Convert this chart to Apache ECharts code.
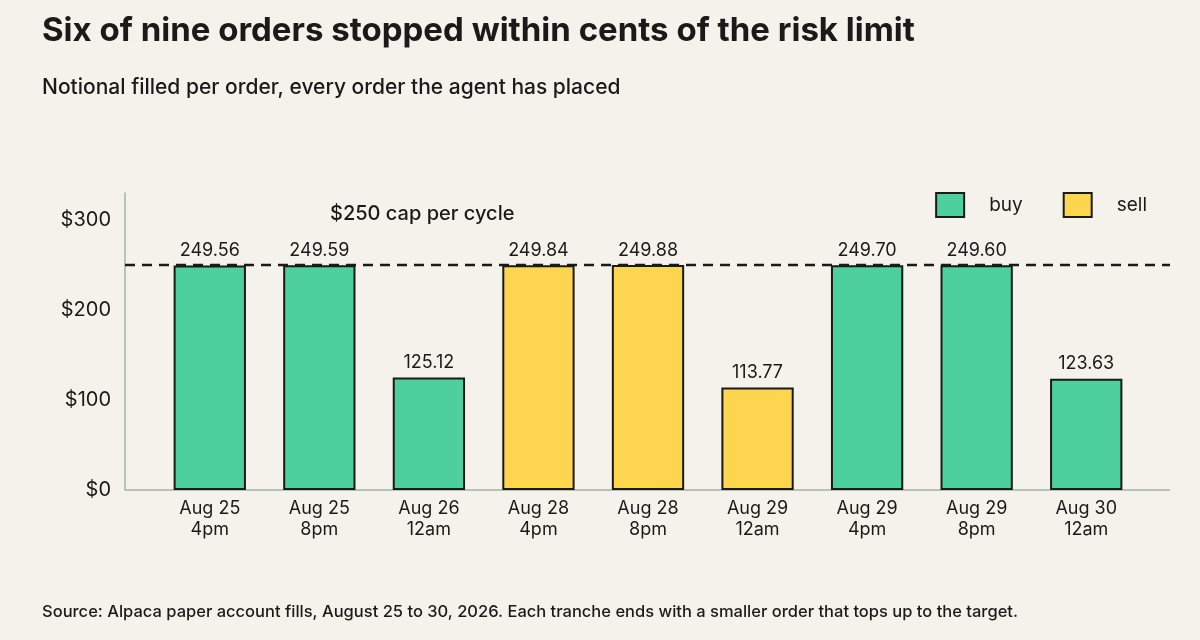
<!DOCTYPE html>
<html><head><meta charset="utf-8">
<script src="https://cdn.jsdelivr.net/npm/echarts@6/dist/echarts.min.js"></script>
<style>body{margin:0;background:#f5f2eb}#c{width:1200px;height:640px}</style>
</head><body><div id="c"></div>
<script>
const categories=["Aug 25\n4pm","Aug 25\n8pm","Aug 26\n12am","Aug 28\n4pm","Aug 28\n8pm","Aug 29\n12am","Aug 29\n4pm","Aug 29\n8pm","Aug 30\n12am"];
const buy=[249.56,249.59,125.12,null,null,null,249.70,249.60,123.63];
const sell=[null,null,null,249.84,249.88,113.77,null,null,null];
const yTicks=[0,100,200,300];
const cap=250;
const F="Inter, 'Noto Sans', sans-serif";
const lbl={show:true,position:'top',color:'#1a1a1a',fontSize:18,fontFamily:F,distance:6,formatter:p=>p.value.toFixed(2)};
const chart=echarts.init(document.getElementById('c'));
chart.setOption({
backgroundColor:'#f5f2eb',
textStyle:{fontFamily:F},
title:[{text:'Six of nine orders stopped within cents of the risk limit',left:37,top:10,textStyle:{fontSize:33,fontWeight:'bold',color:'#1a1a1a',fontFamily:F}},
{text:'Notional filled per order, every order the agent has placed',left:37,top:72,textStyle:{fontSize:21,fontWeight:500,color:'#1a1a1a',fontFamily:F}},
{text:'Source: Alpaca paper account fills, August 25 to 30, 2026. Each tranche ends with a smaller order that tops up to the target.',left:37,top:599,textStyle:{fontSize:16.5,fontWeight:500,color:'#1a1a1a',fontFamily:F}}],
legend:{right:48,top:187,icon:'rect',itemWidth:28,itemHeight:24,itemGap:40,textStyle:{fontSize:19,color:'#1a1a1a',padding:[0,0,0,20]},data:['buy','sell']},
grid:{left:155,right:59,top:193,bottom:150},
xAxis:{type:'category',data:categories,axisTick:{show:false},axisLine:{show:false},axisLabel:{fontSize:18,color:'#1a1a1a',lineHeight:21,margin:8}},
yAxis:{type:'value',min:0,max:330,interval:100,offset:30,axisLine:{show:true,lineStyle:{color:'#9fb3a8',width:1.5}},splitLine:{show:false},axisLabel:{fontSize:20,color:'#1a1a1a',margin:14,showMaxLabel:false,formatter:v=>yTicks.includes(v)?'$'+v:''}},
series:[
{name:'buy',type:'bar',stack:'a',data:buy,barWidth:'66%',itemStyle:{color:'#4ecf9e',borderColor:'#1a1a1a',borderWidth:2},label:lbl},
{name:'sell',type:'bar',stack:'a',data:sell,barWidth:'66%',itemStyle:{color:'#fdd54f',borderColor:'#1a1a1a',borderWidth:2},label:lbl}
]
});
const y0=chart.convertToPixel({yAxisIndex:0},0);
const yc=chart.convertToPixel({yAxisIndex:0},cap);
chart.setOption({graphic:[
{type:'line',z:1,shape:{x1:125,y1:y0,x2:1170,y2:y0},style:{stroke:'#9fb3a8',lineWidth:1.5}},
{type:'line',z:100,shape:{x1:125,y1:yc,x2:1170,y2:yc},style:{stroke:'#1a1a1a',lineWidth:2.5,lineDash:[10,7]}},
{type:'text',left:330,top:204,style:{text:'$250 cap per cycle',fontSize:20,fontWeight:500,fill:'#1a1a1a',fontFamily:F}}
]});
</script></body></html>
